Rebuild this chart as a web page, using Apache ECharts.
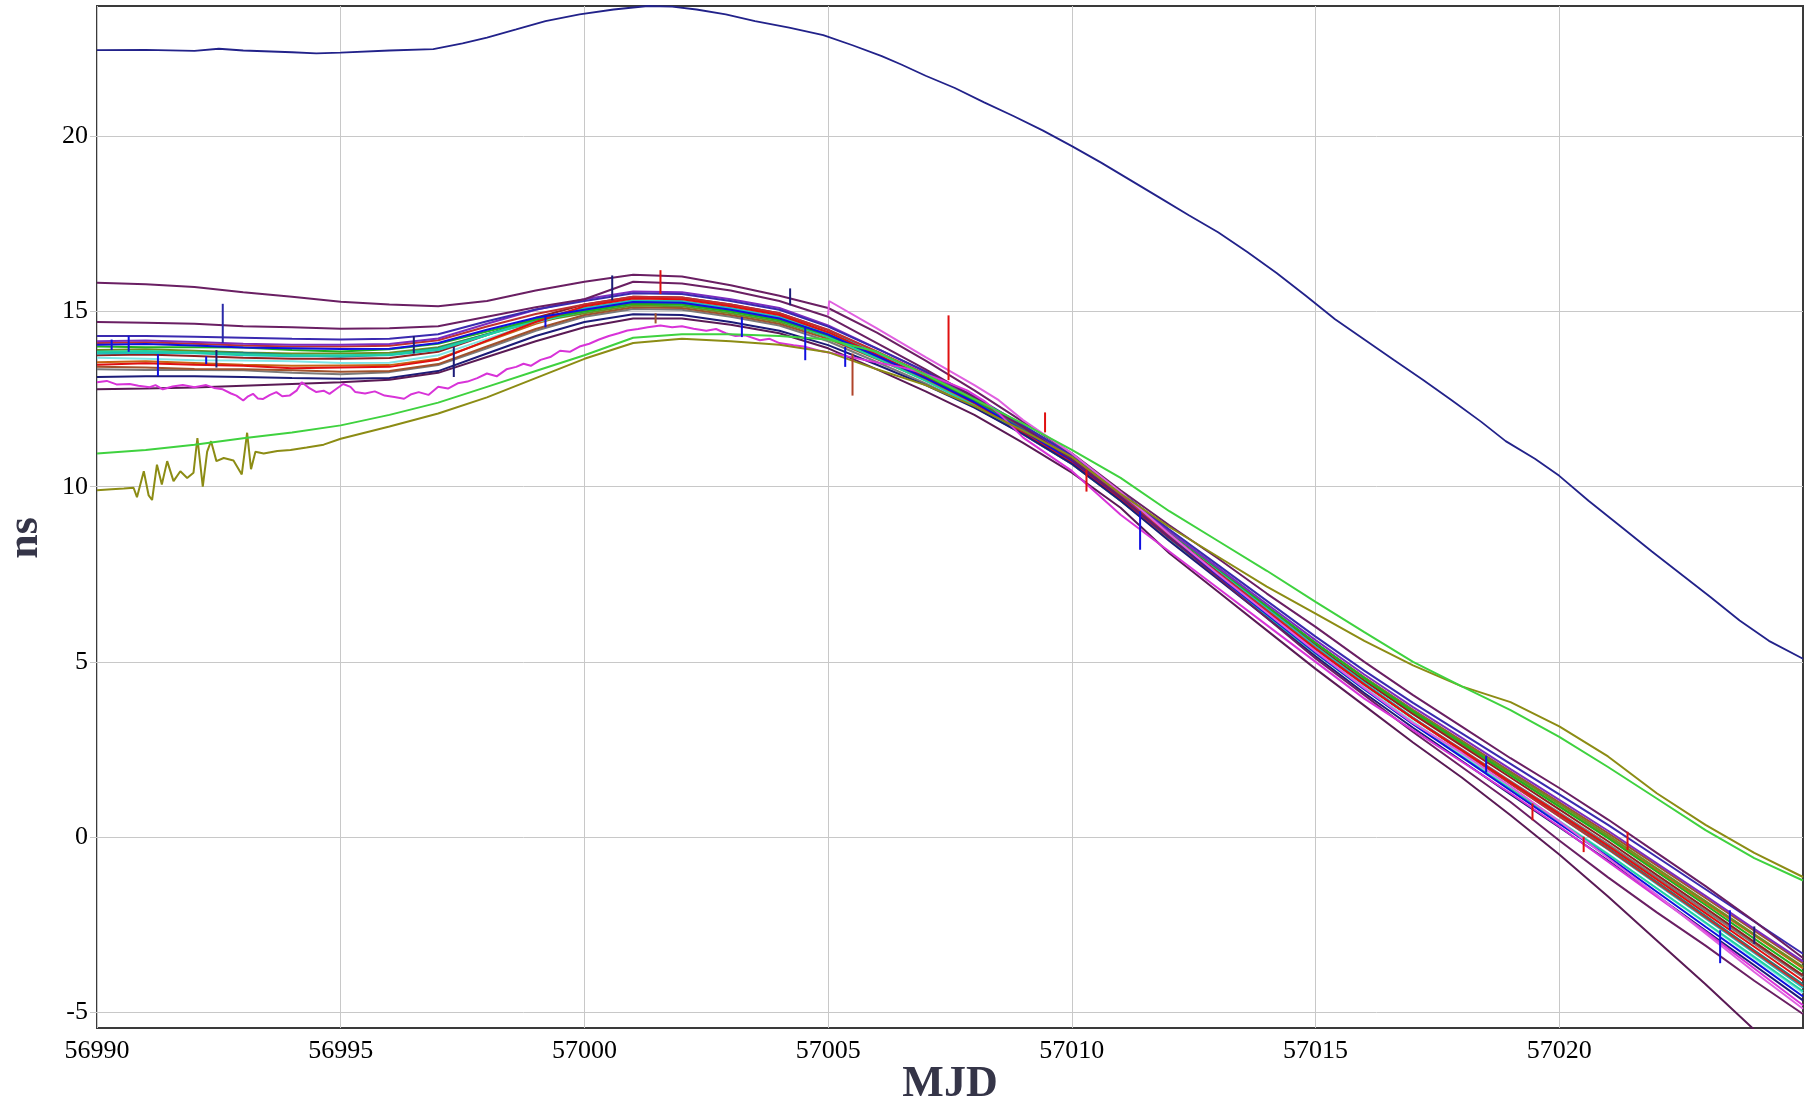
<!DOCTYPE html>
<html>
<head>
<meta charset="utf-8">
<title>Clock offsets vs MJD</title>
<script src="https://cdn.jsdelivr.net/npm/echarts@6/dist/echarts.min.js"></script>
<style>
  html, body { margin: 0; padding: 0; background: #ffffff; }
  #chart { width: 1818px; height: 1110px; }
</style>
</head>
<body>
<div id="chart"></div>
<script>
// ---- axis ticks ----
const X_TICKS = [56990, 56995, 57000, 57005, 57010, 57015, 57020];
const Y_TICKS = [-5, 0, 5, 10, 15, 20];

// ---- daily sample points (MJD) ----
const DAYS = [56990, 56991, 56992, 56993, 56994, 56995, 56996, 56997, 56998, 56999,
              57000, 57001, 57002, 57003, 57004, 57005, 57006, 57007, 57008, 57009,
              57010, 57011, 57012, 57013, 57014, 57015, 57016, 57017, 57018, 57019,
              57020, 57021, 57022, 57023, 57024, 57025];

// ---- clock series on the daily grid (ns) ----
const N1 = [14.30,14.30,14.28,14.25,14.22,14.20,14.22,14.35,14.72,15.06, 15.30,15.52,15.50,15.30,15.05,14.57,13.94,13.29,12.58,11.75, 10.90,9.85,8.78,7.76,6.74,5.72,4.75,3.83,2.96,2.09, 1.22,0.35,-0.57,-1.49,-2.41,-3.33];
const B1 = [14.05,14.07,14.03,13.97,13.95,13.93,13.94,14.10,14.48,14.82, 15.05,15.27,15.25,15.05,14.80,14.34,13.73,13.10,12.41,11.60, 10.75,9.70,8.55,7.46,6.36,5.26,4.22,3.22,2.28,1.33, 0.38,-0.56,-1.56,-2.56,-3.55,-4.55];
const G1 = [14.00,13.98,13.98,13.97,13.90,13.86,13.92,14.08,14.43,14.77, 15.00,15.22,15.20,15.00,14.75,14.32,13.74,13.14,12.48,11.70, 10.85,9.80,8.70,7.65,6.59,5.54,4.53,3.58,2.68,1.77, 0.87,-0.03,-0.99,-1.94,-2.90,-3.85];
const C1 = [13.80,13.82,13.81,13.75,13.72,13.73,13.75,13.90,14.33,14.77, 15.10,15.32,15.30,15.10,14.85,14.41,13.82,13.21,12.54,11.75, 10.90,9.85,8.71,7.62,6.53,5.44,4.40,3.41,2.47,1.53, 0.59,-0.35,-1.34,-2.32,-3.31,-4.30];
const C2 = [13.68,13.65,13.61,13.60,13.58,13.53,13.54,13.75,14.22,14.69, 15.05,15.27,15.25,15.05,14.80,14.35,13.75,13.13,12.45,11.65, 10.80,9.75,8.61,7.51,6.42,5.33,4.29,3.29,2.35,1.41, 0.46,-0.48,-1.47,-2.46,-3.46,-4.45];
const R1 = [13.48,13.52,13.48,13.45,13.38,13.40,13.42,13.62,14.17,14.70, 15.15,15.37,15.35,15.15,14.90,14.41,13.77,13.11,12.39,11.55, 10.70,9.65,8.54,7.48,6.42,5.36,4.35,3.39,2.48,1.57, 0.66,-0.25,-1.21,-2.17,-3.13,-4.10];
const BR1 = [13.42,13.40,13.36,13.35,13.32,13.28,13.30,13.50,14.00,14.50, 14.90,15.12,15.10,14.90,14.65,14.22,13.64,13.04,12.38,11.60, 10.75,9.70,8.62,7.59,6.56,5.54,4.56,3.63,2.75,1.87, 0.99,0.11,-0.81,-1.74,-2.67,-3.60];
const OR1 = [13.55,13.58,13.53,13.48,13.45,13.46,13.47,13.65,14.15,14.65, 15.05,15.27,15.25,15.05,14.80,14.33,13.71,13.07,12.37,11.55, 10.70,9.65,8.56,7.53,6.49,5.46,4.47,3.54,2.65,1.77, 0.88,0.00,-0.94,-1.88,-2.81,-3.75];
const T1 = [13.90,13.92,13.88,13.83,13.80,13.80,13.82,13.98,14.35,14.70, 14.95,15.17,15.15,14.95,14.70,14.27,13.69,13.09,12.43,11.65, 10.80,9.75,8.66,7.62,6.58,5.54,4.55,3.61,2.72,1.83, 0.94,0.05,-0.89,-1.83,-2.77,-3.70];
const MR = [13.75,13.77,13.73,13.68,13.65,13.65,13.67,13.85,14.33,14.82, 15.20,15.42,15.40,15.20,14.95,14.47,13.84,13.19,12.48,11.65, 10.80,9.75,8.64,7.59,6.53,5.47,4.46,3.51,2.60,1.70, 0.79,-0.12,-1.08,-2.03,-2.99,-3.95];
const V1 = [14.15,14.17,14.13,14.08,14.05,14.05,14.07,14.23,14.65,15.05, 15.35,15.57,15.55,15.35,15.10,14.60,13.95,13.28,12.55,11.70, 10.85,9.80,8.72,7.69,6.65,5.62,4.64,3.71,2.83,1.94, 1.06,0.18,-0.75,-1.68,-2.62,-3.55];
const N2 = [13.13,13.15,13.15,13.13,13.10,13.08,13.10,13.30,13.80,14.30, 14.70,14.92,14.90,14.70,14.45,14.04,13.48,12.90,12.26,11.50, 10.65,9.60,8.45,7.36,6.26,5.16,4.11,3.12,2.17,1.22, 0.28,-0.67,-1.67,-2.67,-3.66,-4.66];
const T2 = [13.85,13.87,13.83,13.78,13.75,13.75,13.77,13.93,14.33,14.72, 15.00,15.22,15.20,15.00,14.75,14.28,13.66,13.02,12.32,11.50, 10.65,9.60,8.47,7.39,6.31,5.24,4.21,3.23,2.30,1.37, 0.44,-0.49,-1.46,-2.44,-3.42,-4.40];
const X1 = [13.85,13.83,13.83,13.82,13.75,13.71,13.77,13.95,14.35,14.75, 15.05,15.27,15.25,15.05,14.80,14.35,13.75,13.13,12.45,11.65, 10.80,9.73,8.60,7.53,6.46,5.38,4.36,3.39,2.46,1.54, 0.62,-0.31,-1.28,-2.25,-3.23,-4.20];
const X2 = [13.35,13.33,13.33,13.32,13.25,13.21,13.27,13.47,13.95,14.45, 14.85,15.07,15.05,14.85,14.60,14.15,13.56,12.95,12.28,11.49, 10.65,9.60,8.50,7.45,6.40,5.35,4.35,3.40,2.50,1.60, 0.70,-0.20,-1.15,-2.10,-3.05,-4.00];
const X3 = [14.10,14.12,14.08,14.03,14.00,14.00,14.02,14.18,14.57,14.93, 15.20,15.42,15.40,15.20,14.95,14.48,13.86,13.22,12.52,11.70, 10.83,9.75,8.62,7.54,6.47,5.39,4.36,3.38,2.45,1.52, 0.59,-0.34,-1.31,-2.29,-3.27,-4.25];
const P1 = [15.82,15.78,15.70,15.55,15.42,15.28,15.20,15.15,15.30,15.60, 15.85,16.05,16.00,15.75,15.45,15.10,14.40,13.60,12.75,11.85, 10.95,9.90,8.90,7.95,6.95,6.00,5.00,4.05,3.15,2.25, 1.40,0.50,-0.45,-1.40,-2.40,-3.45];
const P2 = [14.70,14.68,14.65,14.58,14.55,14.51,14.52,14.58,14.85,15.12, 15.35,15.85,15.80,15.60,15.30,14.85,14.10,13.35,12.55,11.70, 10.78,9.70,8.55,7.40,6.25,5.10,4.05,3.00,2.00,1.00, -0.10,-1.15,-2.15,-3.10,-4.10,-5.05];
const P3 = [12.78,12.80,12.83,12.88,12.93,12.98,13.05,13.25,13.70,14.15, 14.55,14.80,14.80,14.62,14.38,13.95,13.35,12.72,12.05,11.25, 10.40,9.40,8.10,7.00,5.90,4.80,3.75,2.70,1.70,0.62, -0.50,-1.70,-2.95,-4.20,-5.50,-6.70];
const LG = [10.95,11.05,11.20,11.38,11.55,11.75,12.05,12.40,12.85,13.30, 13.75,14.25,14.35,14.35,14.30,14.20,13.85,13.20,12.50,11.80, 11.05,10.25,9.30,8.45,7.60,6.71,5.85,5.00,4.30,3.62, 2.86,2.00,1.10,0.20,-0.60,-1.24];

// ---- series with their own sample times: [MJD, ns] ----
const TOP = [[56990,22.46],[56991,22.47],[56992,22.44],[56992.5,22.50],[56993,22.45],[56994,22.40],[56994.5,22.37],[56995,22.39],[56996,22.45],[56996.9,22.49],
  [56997.5,22.65],[56998,22.82],[56998.6,23.05],[56999.2,23.29],[56999.9,23.48],[57000.6,23.62],[57001.3,23.72],[57001.8,23.70],[57002.3,23.62],[57002.9,23.48],
  [57003.5,23.29],[57004.2,23.10],[57004.9,22.89],[57005.5,22.60],[57006.1,22.29],[57006.5,22.05],[57007,21.73],[57007.6,21.38],[57008.2,20.97],[57008.8,20.58],
  [57009.4,20.17],[57010,19.72],[57010.6,19.25],[57011.2,18.75],[57011.8,18.25],[57012.4,17.75],[57013,17.26],[57013.6,16.70],[57014.2,16.10],[57014.8,15.45],
  [57015.4,14.78],[57016,14.20],[57016.6,13.62],[57017.2,13.05],[57017.8,12.46],[57018.4,11.85],[57018.9,11.30],[57019.5,10.80],[57020,10.31],[57020.6,9.60],
  [57021.3,8.82],[57021.9,8.15],[57022.5,7.50],[57023.1,6.85],[57023.7,6.18],[57024.3,5.60],[57025,5.09]];

const OLIVE = [[56990.0,9.90],[56990.3,9.93],[56990.55,9.95],[56990.75,9.97],[56990.82,9.70],[56990.96,10.44],[56991.06,9.75],[56991.13,9.62],[56991.23,10.63],[56991.33,10.06],
  [56991.44,10.73],[56991.57,10.16],[56991.71,10.44],[56991.85,10.25],[56991.98,10.40],[56992.06,11.39],[56992.17,10.00],[56992.26,11.00],[56992.34,11.30],[56992.45,10.73],
  [56992.60,10.82],[56992.80,10.75],[56992.97,10.35],[56993.08,11.54],[56993.16,10.50],[56993.25,11.00],[56993.42,10.95],[56993.7,11.02],[56993.97,11.05],[56994.3,11.12],
  [56994.65,11.20],[56995,11.37],[56996,11.72],[56997,12.09],[56998,12.55],[56999,13.10],[57000,13.65],[57001,14.10],[57002,14.22],[57003,14.15],
  [57004,14.05],[57005,13.84],[57006,13.35],[57007,12.90],[57008,12.30],[57009,11.60],[57010,10.85],[57011,9.80],[57012,8.85],[57013,8.00],
  [57014,7.15],[57015,6.38],[57016,5.60],[57017,4.90],[57018,4.30],[57019,3.85],[57020,3.16],[57021,2.30],[57022,1.25],[57023,0.35],
  [57024,-0.45],[57025,-1.14]];

const MAGENTA = [[56990.0,12.98],[56990.2,13.02],[56990.4,12.92],[56990.67,12.93],[56990.85,12.88],[56991.08,12.84],[56991.2,12.90],[56991.35,12.78],[56991.55,12.86],[56991.76,12.90],
  [56992.0,12.84],[56992.24,12.90],[56992.4,12.82],[56992.58,12.78],[56992.75,12.66],[56992.86,12.60],[56993.0,12.46],[56993.1,12.58],[56993.2,12.65],[56993.3,12.52],
  [56993.4,12.50],[56993.55,12.62],[56993.68,12.70],[56993.8,12.58],[56993.95,12.60],[56994.1,12.75],[56994.2,12.98],[56994.35,12.82],[56994.5,12.70],[56994.65,12.74],
  [56994.77,12.65],[56994.9,12.78],[56995.05,12.93],[56995.2,12.85],[56995.3,12.70],[56995.5,12.66],[56995.7,12.72],[56995.9,12.60],[56996.1,12.56],[56996.3,12.51],
  [56996.45,12.64],[56996.6,12.70],[56996.8,12.62],[56997.0,12.85],[56997.2,12.80],[56997.4,12.95],[56997.6,13.00],[56997.8,13.10],[56998.0,13.23],[56998.2,13.15],
  [56998.4,13.35],[56998.6,13.42],[56998.75,13.51],[56998.9,13.45],[56999.1,13.62],[56999.3,13.70],[56999.5,13.88],[56999.7,13.85],[56999.9,14.00],[57000.1,14.08],
  [57000.3,14.20],[57000.5,14.30],[57000.7,14.38],[57000.88,14.46],[57001.1,14.50],[57001.3,14.55],[57001.56,14.60],[57001.8,14.55],[57002.0,14.58],[57002.24,14.51],
  [57002.5,14.45],[57002.7,14.50],[57002.9,14.38],[57003.1,14.30],[57003.3,14.32],[57003.6,14.18],[57003.8,14.22],[57004.0,14.10],[57004.29,14.04],[57004.5,14.00],
  [57004.8,13.89],[57005.11,13.80],[57005.4,13.72],[57005.8,13.60],[57006.1,13.52],[57006.48,13.42],[57006.8,13.30],[57007.16,13.13],[57007.5,12.95],[57007.85,12.75],
  [57008.2,12.45],[57008.5,12.10],[57009,11.40],[57010,10.45],[57011,9.20],[57012,8.15],[57013,7.10],[57014,6.05],[57015,5.00],[57016,3.95],
  [57017,3.05],[57018,2.15],[57019,1.25],[57020,0.30],[57021,-0.70],[57022,-1.70],[57023,-2.70],[57024,-3.75],[57025,-4.80]];

const MAGENTA_B = [[57005.0,14.90],[57005.02,15.30],[57006,14.52],[57007,13.70],[57008,12.90],[57008.5,12.47],[57009,11.90],[57010,10.95],[57011,9.85],[57012,8.65],
  [57013,7.50],[57014,6.40],[57015,5.30],[57016,4.25],[57017,3.25],[57018,2.40],[57019,1.45],[57020,0.45],[57021,-0.60],[57022,-1.65],
  [57023,-2.75],[57024,-3.85],[57025,-4.90]];

// ---- short glitches: [MJD, from ns, to ns, colour] ----
const SPIKES = [
  [56990.30, 14.20, 13.90, '#1010E0'], [56990.65, 14.30, 13.85, '#1010E0'], [56991.25, 13.78, 13.16, '#1010E0'],
  [56992.24, 13.72, 13.50, '#1010E0'], [56992.45, 13.90, 13.40, '#1C1C78'], [56992.58, 14.10, 15.22, '#2A2AA8'],
  [56996.50, 14.30, 13.80, '#1C1C78'], [56997.32, 13.99, 13.13, '#1C1C78'], [56999.20, 14.55, 14.90, '#1010E0'],
  [57000.57, 15.32, 16.03, '#1C1C78'], [57001.46, 14.95, 14.66, '#A0522D'], [57001.56, 15.50, 16.18, '#E01010'],
  [57003.23, 14.84, 14.27, '#1010E0'], [57004.22, 15.18, 15.66, '#1C1C78'], [57004.53, 14.56, 13.61, '#1010E0'],
  [57005.35, 13.99, 13.42, '#1010E0'], [57005.50, 13.80, 12.60, '#B0442A'], [57007.47, 13.04, 14.89, '#E01010'],
  [57009.45, 11.55, 12.12, '#E01010'], [57010.30, 10.48, 9.86, '#E01010'], [57011.40, 9.30, 8.20, '#1010E0'],
  [57018.50, 2.32, 1.84, '#1010E0'], [57019.45, 0.96, 0.48, '#E01010'], [57020.50, 0.01, -0.43, '#E01010'],
  [57021.40, 0.15, -0.37, '#E01010'], [57023.30, -2.66, -3.60, '#1010E0'], [57023.50, -2.09, -2.66, '#1010E0'],
  [57024.00, -2.55, -3.05, '#1C1C78']
];

// ---- build series ----
const series = [];
function addLine(name, color, data, width) {
  series.push({
    name: name, type: 'line', data: data, showSymbol: false, symbol: 'none',
    lineStyle: { color: color, width: width || 2 }, itemStyle: { color: color },
    animation: false, silent: true, clip: true
  });
}
function onDays(values) { return DAYS.map((d, i) => [d, values[i]]); }

const DAILY = [
  ['X2', '#7A7A7A', X2], ['BR1', '#A0522D', BR1], ['OR1', '#C86414', OR1], ['T1', '#6B8E23', T1], ['MR', '#902020', MR],
  ['C2', '#80E6E6', C2], ['X1', '#1F7F7F', X1], ['C1', '#20C0C0', C1], ['T2', '#20D0A0', T2], ['G1', '#20B020', G1],
  ['X3', '#C03030', X3], ['R1', '#E01010', R1], ['B1', '#1010E0', B1], ['V1', '#7B2CBF', V1], ['N2', '#1C1C78', N2],
  ['N1', '#3A2AB0', N1], ['P1', '#6A1F63', P1], ['P2', '#6A1F63', P2], ['P3', '#5A1A55', P3]
];
DAILY.forEach(s => addLine(s[0], s[1], onDays(s[2])));
addLine('MAGENTA', '#D833D8', MAGENTA);
addLine('MAGENTA_B', '#E060E0', MAGENTA_B);
addLine('OLIVE', '#8C8C14', OLIVE);
addLine('LG', '#3FD23F', onDays(LG));
SPIKES.forEach((s, i) => addLine('spike' + i, s[3], [[s[0], s[1]], [s[0], s[2]]], 2));
addLine('TOP', '#22228A', TOP, 1.8);

const labelFont = { fontFamily: 'Liberation Serif', fontSize: 26, color: '#000000' };

const option = {
  backgroundColor: '#ffffff',
  animation: false,
  grid: { left: 97, top: 6, right: 15, bottom: 82, show: true, borderColor: '#3a3a3a', borderWidth: 2, backgroundColor: 'transparent' },
  xAxis: {
    type: 'value', min: 56990, max: 57025, minInterval: 5, maxInterval: 5,
    axisLine: { show: false },
    axisTick: { show: true, length: 9, lineStyle: { color: '#c8c8c8' }, customValues: X_TICKS },
    axisLabel: Object.assign({ margin: 10, customValues: X_TICKS, formatter: v => String(v) }, labelFont),
    splitLine: { show: true, lineStyle: { color: '#c8c8c8', width: 1 } }
  },
  yAxis: {
    type: 'value', min: -5.45, max: 23.72, minInterval: 5, maxInterval: 5,
    axisLine: { show: false },
    axisTick: { show: true, length: 7, lineStyle: { color: '#c8c8c8' }, customValues: Y_TICKS },
    axisLabel: Object.assign({ margin: 9, customValues: Y_TICKS, formatter: v => String(v) }, labelFont),
    splitLine: { show: true, lineStyle: { color: '#c8c8c8', width: 1 } }
  },
  graphic: [
    { type: 'text', x: 950, y: 1085, style: { text: 'MJD', font: 'bold 44px "Liberation Serif"', fill: '#353548', align: 'center', verticalAlign: 'middle' } },
    { type: 'text', x: 26, y: 538, rotation: Math.PI / 2, style: { text: 'ns', font: 'bold 44px "Liberation Serif"', fill: '#353548', align: 'center', verticalAlign: 'middle' } }
  ],
  series: series
};

const chart = echarts.init(document.getElementById('chart'), null, { renderer: 'canvas' });
chart.setOption(option);
</script>
</body>
</html>
